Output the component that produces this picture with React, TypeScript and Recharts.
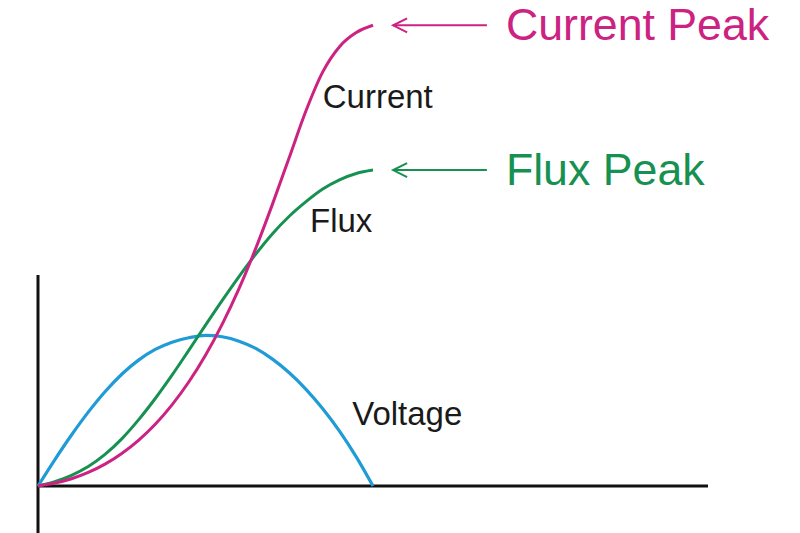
import { LineChart, Line, XAxis, YAxis, ReferenceLine, ReferenceDot } from "recharts";

// time along the quarter cycle (arbitrary units)
const phase = [0, 2.5, 5, 7.5, 10, 12.5, 15, 17.5, 20, 22.5, 25, 27.5, 30, 32.5, 35, 37.5, 40, 42.5, 45, 47.5, 50];

const voltage = [0, 5.4, 10.5, 15.2, 19.4, 23.0, 25.9, 28.1, 29.6, 30.5, 31.0, 30.7, 29.8, 28.3, 26.1, 23.3, 19.9, 15.9, 11.3, 6.0, 0];
const flux = [0, 0.9, 2.2, 4.0, 6.5, 9.7, 13.6, 18.0, 22.8, 27.9, 33.1, 38.2, 43.1, 47.7, 51.9, 55.5, 58.5, 61.1, 63.0, 64.3, 65.0];
const current = [0, 0.6, 1.5, 2.8, 4.5, 6.7, 9.4, 12.7, 16.7, 21.4, 26.9, 33.3, 40.6, 48.9, 58.0, 67.6, 77.2, 85.2, 90.4, 93.3, 94.8];

const data = phase.map((t, i) => ({
  t,
  voltage: voltage[i],
  flux: flux[i],
  current: current[i],
}));

const BLUE = "#1f9bd6";
const GREEN = "#179152";
const MAGENTA = "#cc2281";
const FONT = "'Liberation Sans', Arial, sans-serif";

const peakCurrent = current[current.length - 1];
const peakFlux = flux[flux.length - 1];

function peakArrow(text: string, color: string) {
  return (p: any) => {
    const left = Math.min(p.x1, p.x2);
    const right = Math.max(p.x1, p.x2);
    const y = p.y1;
    return (
      <g>
        <line x1={left} y1={y} x2={right} y2={y} stroke={color} strokeWidth={2} />
        <polyline
          points={`${left + 14},${y - 7} ${left},${y} ${left + 14},${y + 7}`}
          fill="none"
          stroke={color}
          strokeWidth={2}
        />
        <text x={right + 19} y={y + 15} fill={color} fontSize={44.7} fontFamily={FONT}>
          {text}
        </text>
      </g>
    );
  };
}

function curveName(text: string) {
  return (p: any) => (
    <text
      x={p.viewBox.x + p.viewBox.width / 2}
      y={p.viewBox.y + p.viewBox.height / 2}
      fill="#1a1a1a"
      fontSize={33}
      fontFamily={FONT}
    >
      {text}
    </text>
  );
}

export default function App() {
  return (
    <div style={{ position: "absolute", left: 0, top: 0, background: "#fff" }}>
      <LineChart
        width={800}
        height={533}
        data={data}
        margin={{ top: 0, right: 92, bottom: 47, left: 38 }}
      >
        <XAxis dataKey="t" type="number" domain={[0, 100]} hide height={0} />
        <YAxis type="number" domain={[0, 100]} hide width={0} />

        {/* axes */}
        <ReferenceLine
          segment={[{ x: 0, y: 0 }, { x: 100, y: 0 }]}
          stroke="#111"
          strokeWidth={3}
          ifOverflow="visible"
        />
        <ReferenceLine
          segment={[{ x: 0, y: 43.4 }, { x: 0, y: -10 }]}
          stroke="#111"
          strokeWidth={3}
          ifOverflow="visible"
        />

        <Line type="monotone" dataKey="voltage" stroke={BLUE} strokeWidth={3.2} dot={false} activeDot={false} isAnimationActive={false} />
        <Line type="monotone" dataKey="flux" stroke={GREEN} strokeWidth={3} dot={false} activeDot={false} isAnimationActive={false} />
        <Line type="monotone" dataKey="current" stroke={MAGENTA} strokeWidth={3} dot={false} activeDot={false} isAnimationActive={false} />

        <ReferenceLine
          segment={[{ x: 53, y: peakCurrent }, { x: 67, y: peakCurrent }]}
          ifOverflow="visible"
          shape={peakArrow("Current Peak", MAGENTA)}
        />
        <ReferenceLine
          segment={[{ x: 53, y: peakFlux }, { x: 67, y: peakFlux }]}
          ifOverflow="visible"
          shape={peakArrow("Flux Peak", GREEN)}
        />

        <ReferenceDot x={42.5} y={77.8} r={1} fill="none" stroke="none" ifOverflow="visible" label={{ content: curveName("Current") }} />
        <ReferenceDot x={40.6} y={52.3} r={1} fill="none" stroke="none" ifOverflow="visible" label={{ content: curveName("Flux") }} />
        <ReferenceDot x={46.9} y={12.6} r={1} fill="none" stroke="none" ifOverflow="visible" label={{ content: curveName("Voltage") }} />
      </LineChart>
    </div>
  );
}
